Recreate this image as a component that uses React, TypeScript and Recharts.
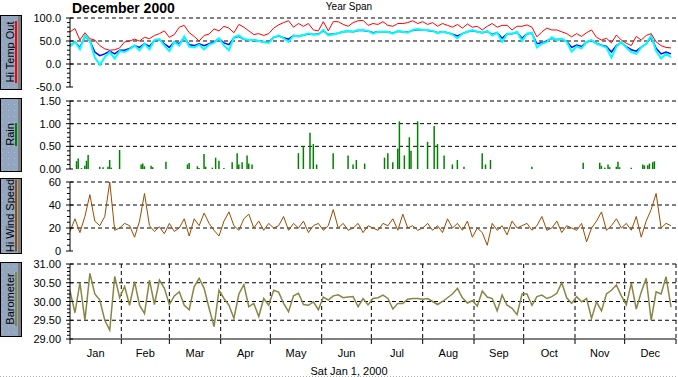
import { Bar, CartesianGrid, ComposedChart, Line, XAxis, YAxis } from "recharts";

// sample days (every 3rd day of 2000, day 0 = Jan 1)
const sampleDays = [
  0, 3, 6, 9, 12, 15, 18, 21, 24, 27, 30, 33, 36, 39, 42, 45, 48, 51, 54, 57,
  60, 63, 66, 69, 72, 75, 78, 81, 84, 87, 90, 93, 96, 99, 102, 105, 108, 111,
  114, 117, 120, 123, 126, 129, 132, 135, 138, 141, 144, 147, 150, 153, 156,
  159, 162, 165, 168, 171, 174, 177, 180, 183, 186, 189, 192, 195, 198, 201,
  204, 207, 210, 213, 216, 219, 222, 225, 228, 231, 234, 237, 240, 243, 246,
  249, 252, 255, 258, 261, 264, 267, 270, 273, 276, 279, 282, 285, 288, 291,
  294, 297, 300, 303, 306, 309, 312, 315, 318, 321, 324, 327, 330, 333, 336,
  339, 342, 345, 348, 351, 354, 357, 360, 363,
];

// Hi Temp Out (red)
const hiTemp = [
  70, 77, 52, 68, 55, 52, 40, 33, 30, 31, 35,
  48, 50, 54, 50, 58, 55, 62, 66, 72,
  58, 64, 80, 84, 68, 60, 50, 62, 65, 76, 72,
  82, 78, 68, 86, 80, 72, 64, 66, 62, 66,
  78, 85, 90, 94, 80, 88, 82, 88, 74, 72,
  92, 72, 92, 92, 86, 82, 90, 94, 95, 84,
  88, 86, 92, 84, 82, 88, 88, 90, 94, 88,
  92, 86, 90, 82, 88, 84, 80, 86, 78, 87, 80,
  82, 74, 82, 88, 80, 84, 84, 74, 82, 82,
  85, 80, 59, 70, 78, 74, 74, 70, 66, 59,
  66, 60, 68, 74, 58, 52, 56, 46, 63, 52,
  45, 40, 60, 52, 62, 66, 48, 40, 36, 35,
];

// Temp Out (blue)
const tempOut = [
  40, 48, 36, 60, 50, 26, 18, 22, 28, 22, 30,
  30, 34, 40, 36, 44, 38, 51, 53, 44,
  36, 48, 44, 58, 42, 40, 44, 40, 44, 48, 55,
  46, 42, 57, 60, 54, 52, 52, 50, 48, 47,
  58, 61, 57, 54, 62, 60, 63, 65, 64, 65,
  72, 64, 65, 67, 70, 71, 70, 73, 73, 72,
  68, 70, 70, 70, 67, 71, 70, 69, 73, 75,
  74, 73, 72, 68, 70, 68, 65, 61, 66, 70, 73,
  70, 68, 71, 64, 68, 56, 66, 66, 69, 56,
  66, 67, 44, 46, 50, 56, 53, 54, 49, 36,
  41, 38, 48, 51, 45, 41, 38, 26, 40, 47,
  38, 31, 28, 37, 44, 58, 34, 22, 26, 22,
];

// Low Temp Out (cyan)
const lowTemp = [
  38, 48, 32, 62, 50, 14, -2, 15, 26, 12, 28,
  26, 32, 40, 30, 44, 32, 52, 54, 40,
  28, 48, 40, 60, 38, 36, 42, 32, 42, 46, 56,
  40, 30, 58, 62, 54, 52, 52, 50, 48, 46,
  58, 62, 56, 48, 62, 60, 63, 66, 64, 64,
  74, 62, 64, 67, 70, 72, 70, 74, 74, 72,
  66, 70, 70, 70, 66, 72, 70, 68, 74, 76,
  74, 74, 72, 67, 70, 68, 64, 56, 66, 70, 74,
  70, 68, 72, 62, 68, 48, 66, 66, 70, 50,
  66, 68, 36, 44, 48, 58, 52, 55, 48, 27,
  38, 34, 48, 52, 44, 40, 36, 14, 38, 48,
  36, 26, 22, 36, 44, 62, 28, 12, 22, 15,
];

// Hi Wind Speed
const hiWind = [
  17, 28, 16, 30, 49, 26, 22, 30, 60, 18, 20,
  24, 22, 12, 26, 50, 22, 17, 21, 15,
  24, 17, 20, 28, 13, 28, 22, 33, 24, 18, 13,
  26, 34, 22, 18, 28, 32, 20, 26, 18, 24,
  20, 22, 30, 18, 24, 20, 26, 16, 22, 24,
  18, 22, 36, 20, 24, 18, 20, 24, 16, 22,
  20, 18, 24, 22, 28, 18, 32, 20, 22, 18,
  20, 24, 18, 22, 16, 28, 20, 24, 18, 26, 12,
  20, 16, 5, 24, 18, 22, 14, 26, 20, 22,
  24, 18, 22, 30, 18, 20, 26, 16, 22, 20,
  18, 24, 8, 20, 26, 34, 18, 22, 28, 20,
  24, 18, 30, 12, 26, 36, 50, 20, 24, 22,
];

// Barometer
const barometer = [
  30.28, 29.7, 30.5, 29.5, 30.75, 30.2, 30.04, 29.5, 29.24, 30.67, 30.1,
  30.4, 29.9, 30.53, 29.9, 29.68, 30.57, 29.92, 30.57, 30.35,
  29.92, 30.15, 30.26, 29.9, 29.78, 30.4, 30.62, 30.35, 29.82, 29.33, 30.3,
  30.08, 29.9, 29.55, 30.2, 30.45, 29.86, 29.95, 29.6, 30.08, 29.9,
  30.3, 30.25, 29.95, 29.73, 30.15, 30.22, 29.92, 29.9, 29.99, 29.78,
  30.12, 30.04, 30.15, 30.18, 30.1, 30.12, 30.13, 29.86, 30.08, 29.91,
  30.08, 30.1, 30.17, 30.08, 29.8, 29.95, 29.95, 30.06, 30.08, 30.08,
  30.06, 30.08, 30.0, 29.92, 30.0, 30.1, 30.2, 30.35, 30.1, 29.96, 30.02,
  29.88, 30.28, 30.12, 30.08, 29.75, 30.17, 29.9, 29.82, 29.65, 30.2,
  30.2, 29.9, 30.13, 30.17, 30.08, 30.13, 30.22, 30.5, 30.1, 29.95,
  30.13, 29.99, 30.08, 29.55, 29.99, 29.75, 30.2, 30.3, 30.44, 30.15,
  29.91, 30.49, 29.8, 30.25, 30.62, 29.5, 30.26, 30.2, 30.66, 29.85,
];

// Rain (only the days with rain)
const rainDays = [
  0, 4, 5, 7, 9, 10, 11, 18, 20, 23, 24, 25, 30,
  43, 44, 45, 49, 50, 58,
  71, 72, 77, 78, 81, 82, 86, 88, 90,
  93, 98, 101, 102, 104, 107, 108, 110,
  138, 141, 145, 147, 149,
  159, 168, 171, 173, 178,
  190, 192, 195, 198, 199, 202, 205, 206, 210,
  216, 220, 222, 226, 231, 234, 238,
  249, 251, 254, 279,
  310, 320, 321, 323, 325, 326, 330, 331, 332,
  339, 346, 347, 349, 350, 352, 353,
];
const rainAmounts = [
  0.02, 0.17, 0.23, 0.02, 0.07, 0.18, 0.31, 0.05, 0.04, 0.05, 0.2, 0.03, 0.42,
  0.1, 0.12, 0.06, 0.07, 0.04, 0.16,
  0.1, 0.13, 0.06, 0.02, 0.33, 0.05, 0.03, 0.25, 0.18,
  0.02, 0.15, 0.35, 0.1, 0.15, 0.3, 0.12, 0.1,
  0.35, 0.5, 0.8, 0.55, 0.1,
  0.35, 0.3, 0.1, 0.2, 0.12,
  0.25, 0.35, 0.15, 0.45, 1.05, 0.3, 0.7, 0.4, 1.05,
  0.6, 0.95, 0.55, 0.3, 0.1, 0.2, 0.05,
  0.35, 0.1, 0.2, 0.05,
  0.14, 0.14, 0.07, 0.03, 0.1, 0.04, 0.05, 0.16, 0.04,
  0.03, 0.1, 0.08, 0.08, 0.12, 0.15, 0.17,
];

const MONTHS = ["Jan", "Feb", "Mar", "Apr", "May", "Jun", "Jul", "Aug", "Sep", "Oct", "Nov", "Dec"];
const MONTH_STARTS = [0, 31, 60, 91, 121, 152, 182, 213, 244, 274, 305, 335, 366];

const tempMajor = [-50, 0, 50, 100];
const tempMinor = [-40, -30, -20, -10, 10, 20, 30, 40, 60, 70, 80, 90];
const rainMajor = [0, 0.5, 1, 1.5];
const rainMinor = [0.1, 0.2, 0.3, 0.4, 0.6, 0.7, 0.8, 0.9, 1.1, 1.2, 1.3, 1.4];
const windMajor = [0, 20, 40, 60];
const windMinor = [5, 10, 15, 25, 30, 35, 45, 50, 55];
const baroMajor = [29, 29.5, 30, 30.5, 31];
const baroMinor = [29.1, 29.2, 29.3, 29.4, 29.6, 29.7, 29.8, 29.9, 30.1, 30.2, 30.3, 30.4, 30.6, 30.7, 30.8, 30.9];

const tempData = sampleDays.map((day, i) => ({ day, hi: hiTemp[i], temp: tempOut[i], low: lowTemp[i] }));
const windData = sampleDays.map((day, i) => ({ day, wind: hiWind[i] }));
const baroData = sampleDays.map((day, i) => ({ day, baro: barometer[i] }));
const rainData = rainDays.map((day, i) => ({ day, rain: rainAmounts[i] }));

const FONT = '"Liberation Sans", Arial, sans-serif';
const W = 678;
const PLOT_LEFT = 70;
const PLOT_RIGHT = 676;
const DAY_PX = (PLOT_RIGHT - PLOT_LEFT) / 366;
const GRID_DASH = "4 3";

const near = (a: number, b: number) => Math.abs(a - b) < 1e-6;

const makeYTick = (majors: number[], fmt: (v: number) => string) => (props: any) => {
  const { y, payload } = props;
  const major = majors.some((m) => near(m, payload.value));
  return (
    <g>
      <line
        x1={major ? PLOT_LEFT - 4 : PLOT_LEFT - 3}
        x2={major ? PLOT_LEFT + 3 : PLOT_LEFT}
        y1={y}
        y2={y}
        stroke="#000"
      />
      {major && (
        <text x={PLOT_LEFT - 9} y={y} dy={4} textAnchor="end" fontSize={11} fontFamily={FONT} fill="#000">
          {fmt(payload.value)}
        </text>
      )}
    </g>
  );
};

const MonthTick = (props: any) => {
  const { x, y, payload } = props;
  const i = MONTH_STARTS.indexOf(payload.value);
  if (i < 0 || i >= 12) return null;
  const w = (MONTH_STARTS[i + 1] - MONTH_STARTS[i]) * DAY_PX;
  return (
    <text x={x + w / 2} y={y + 11} textAnchor="middle" fontSize={11} fontFamily={FONT} fill="#000">
      {MONTHS[i]}
    </text>
  );
};

interface PanelProps {
  plotTop: number;
  plotBottom: number;
  data: any[];
  domain: [number, number];
  majors: number[];
  minors: number[];
  fmt: (v: number) => string;
  months?: boolean;
  baseColor?: string;
  children: any;
}

function Panel({ plotTop, plotBottom, data, domain, majors, minors, fmt, months, baseColor, children }: PanelProps) {
  const xH = months ? 30 : 0;
  const bottom = months ? 0 : 8;
  const height = 6 + (plotBottom - plotTop) + xH + bottom;
  return (
    <div style={{ position: "absolute", left: 0, top: plotTop - 6 }}>
      <ComposedChart width={W} height={height} data={data} margin={{ top: 6, right: W - PLOT_RIGHT, bottom, left: 10 }}>
        <CartesianGrid
          stroke="#000"
          strokeDasharray={GRID_DASH}
          horizontalValues={majors.slice(1)}
          verticalValues={MONTH_STARTS.slice(1)}
        />
        <XAxis
          dataKey="day"
          type="number"
          domain={[0, 366]}
          ticks={MONTH_STARTS}
          interval={0}
          height={xH}
          axisLine={{ stroke: baseColor || "#000", strokeWidth: baseColor ? 2 : 1 }}
          tickLine={months ? { stroke: "#000" } : false}
          tickSize={5}
          tick={months ? <MonthTick /> : false}
          allowDataOverflow
        />
        <YAxis
          type="number"
          domain={domain}
          ticks={[...majors, ...minors]}
          interval={0}
          width={60}
          axisLine={{ stroke: "#000" }}
          tickLine={false}
          tick={makeYTick(majors, fmt)}
          allowDataOverflow
        />
        {children}
      </ComposedChart>
    </div>
  );
}

const LABEL_BOXES = [
  { y0: 15, y1: 89, text: "Hi Temp Out", color: "#ff0000", len: 62 },
  { y0: 98, y1: 171, text: "Rain", color: "#008000", len: 23 },
  { y0: 178, y1: 253, text: "Hi Wind Speed", color: "#994c00", len: 72 },
  { y0: 262, y1: 336, text: "Barometer", color: "#868645", len: 54 },
];

export default function App() {
  return (
    <div style={{ position: "absolute", left: 0, top: 0, width: W, height: 377, background: "#fff", fontFamily: FONT }}>
      <svg width={W} height={377} style={{ position: "absolute", left: 0, top: 0 }}>
        <defs>
          <pattern id="dots" width="6" height="6" patternUnits="userSpaceOnUse">
            <rect width="6" height="6" fill="#93a6c0" />
            <rect x="2" y="2" width="1" height="1" fill="#b9bfc9" />
          </pattern>
        </defs>
        <text x={72} y={13} fontSize={14} fontWeight="bold" fontFamily={FONT} fill="#000">
          December 2000
        </text>
        <text x={349} y={10} fontSize={10} textAnchor="middle" fontFamily={FONT} fill="#000">
          Year Span
        </text>
        {LABEL_BOXES.map((b) => {
          const cy = (b.y0 + b.y1) / 2;
          return (
            <g key={b.text}>
              <rect x={0.5} y={b.y0 + 0.5} width={21} height={b.y1 - b.y0} fill="url(#dots)" />
              <rect x={18} y={b.y0 + 0.5} width={3.5} height={b.y1 - b.y0} fill="#7f7f7f" />
              <rect x={0.5} y={b.y0 + 0.5} width={21} height={b.y1 - b.y0} fill="none" stroke="#000" />
              <text
                x={14}
                y={cy}
                transform={`rotate(-90 14 ${cy})`}
                textAnchor="middle"
                fontSize={11}
                fontFamily={FONT}
                fill="#000"
              >
                {b.text}
              </text>
              <rect x={15} y={cy - b.len / 2} width={2} height={b.len} fill={b.color} />
            </g>
          );
        })}
        <text x={349} y={375} fontSize={11} textAnchor="middle" fontFamily={FONT} fill="#000">
          Sat Jan 1, 2000
        </text>
        <line x1={0} x2={W} y1={376.5} y2={376.5} stroke="#b0b0b0" strokeDasharray="1 2" />
      </svg>

      <Panel plotTop={18} plotBottom={87} data={tempData} domain={[-50, 100]} majors={tempMajor} minors={tempMinor} fmt={(v) => v.toFixed(1)}>
        <Line dataKey="temp" stroke="#0000ff" strokeWidth={1.5} dot={false} isAnimationActive={false} />
        <Line dataKey="low" stroke="#00ffff" strokeWidth={2} dot={false} isAnimationActive={false} />
        <Line dataKey="hi" stroke="#ff0000" strokeWidth={1} dot={false} isAnimationActive={false} />
      </Panel>

      <Panel plotTop={101} plotBottom={169} data={rainData} domain={[0, 1.5]} majors={rainMajor} minors={rainMinor} fmt={(v) => v.toFixed(2)} baseColor="#008000">
        <Bar dataKey="rain" fill="#008000" barSize={2} isAnimationActive={false} />
      </Panel>

      <Panel plotTop={182} plotBottom={251} data={windData} domain={[0, 60]} majors={windMajor} minors={windMinor} fmt={(v) => String(v)}>
        <Line dataKey="wind" stroke="#994c00" strokeWidth={1} dot={false} isAnimationActive={false} />
      </Panel>

      <Panel plotTop={264} plotBottom={339} data={baroData} domain={[29, 31]} majors={baroMajor} minors={baroMinor} fmt={(v) => v.toFixed(2)} months>
        <Line dataKey="baro" stroke="#868645" strokeWidth={1.5} dot={false} isAnimationActive={false} />
      </Panel>
    </div>
  );
}
